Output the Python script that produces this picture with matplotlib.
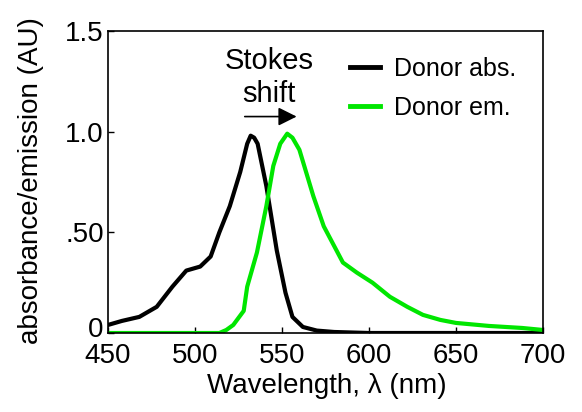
import matplotlib
matplotlib.use("Agg")
import matplotlib.pyplot as plt
from matplotlib.transforms import ScaledTranslation

plt.rcParams['font.family'] = ['Liberation Sans', 'DejaVu Sans']

# Donor absorbance
abs_wl = [450, 458, 468, 478, 487, 495, 503, 509, 514, 520, 526, 530, 532, 534, 536, 541, 547, 552, 556, 562, 570, 580, 600, 650, 700]
abs_val = [0.04, 0.06, 0.08, 0.13, 0.23, 0.31, 0.33, 0.38, 0.50, 0.63, 0.80, 0.94, 0.98, 0.97, 0.94, 0.73, 0.41, 0.20, 0.08, 0.03, 0.012, 0.005, 0.0, 0.0, 0.0]

# Donor emission
em_wl = [450, 480, 500, 514, 518, 522, 528, 530, 535.6, 541, 545, 549, 553, 556, 560, 568, 574, 585, 593, 602, 612, 622, 631, 641, 650, 669, 688, 700]
em_val = [0.0, 0.0, 0.0, 0.0, 0.015, 0.04, 0.11, 0.23, 0.40, 0.63, 0.83, 0.94, 0.99, 0.97, 0.91, 0.68, 0.53, 0.35, 0.30, 0.25, 0.18, 0.13, 0.09, 0.065, 0.05, 0.035, 0.025, 0.015]

xticks = [450, 500, 550, 600, 650, 700]
yticks = [0, 0.5, 1.0, 1.5]
ytick_labels = ["0", ".50", "1.0", "1.5"]

W, H = 582, 412
fig = plt.figure(figsize=(5.82, 4.12), dpi=100)
ax = fig.add_axes([108 / W, 1 - 333 / H, (543 - 108) / W, (333 - 31) / H])

ax.plot(abs_wl, abs_val, color='black', lw=3, label='Donor abs.', solid_joinstyle='round')
ax.plot(em_wl, em_val, color='#00e600', lw=3, label='Donor em.', solid_joinstyle='round')

ax.set_xlim(450, 700)
ax.set_ylim(0, 1.5)
ax.set_xticks(xticks)
ax.set_yticks(yticks)
ax.set_yticklabels(ytick_labels)
ax.tick_params(direction='in', length=4, width=1, labelsize=20)
ax.tick_params(axis='x', pad=7)
ax.tick_params(axis='y', pad=3)
for s in ax.spines.values():
    s.set_linewidth(1.2)

# nudge the "0" y-tick label up slightly, as in the reference
lbl0 = ax.get_yticklabels()[0]
lbl0.set_transform(lbl0.get_transform() + ScaledTranslation(0, 4 / 72, fig.dpi_scale_trans))

fig.text(327 / W, 1 - 386 / H, 'Wavelength, λ (nm)', fontsize=20, ha='center', va='center')
fig.text(31 / W, 1 - 181 / H, 'absorbance/emission (AU)', fontsize=20, ha='center', va='center',
         rotation=90)

ax.text(542.5, 1.35, 'Stokes', fontsize=21, ha='center', va='center')
ax.text(542.5, 1.185, 'shift', fontsize=21, ha='center', va='center')
ax.annotate('', xy=(560, 1.075), xytext=(527, 1.075),
            arrowprops=dict(arrowstyle='-|>', color='black', lw=1.2, mutation_scale=28))

leg = ax.legend(loc='upper left', bbox_to_anchor=(0.505, 0.99), frameon=False,
                fontsize=18, handlelength=1.2, handletextpad=0.55, labelspacing=0.6)
for l in leg.get_lines():
    l.set_linewidth(3.5)

fig.savefig('out.png', dpi=100)
